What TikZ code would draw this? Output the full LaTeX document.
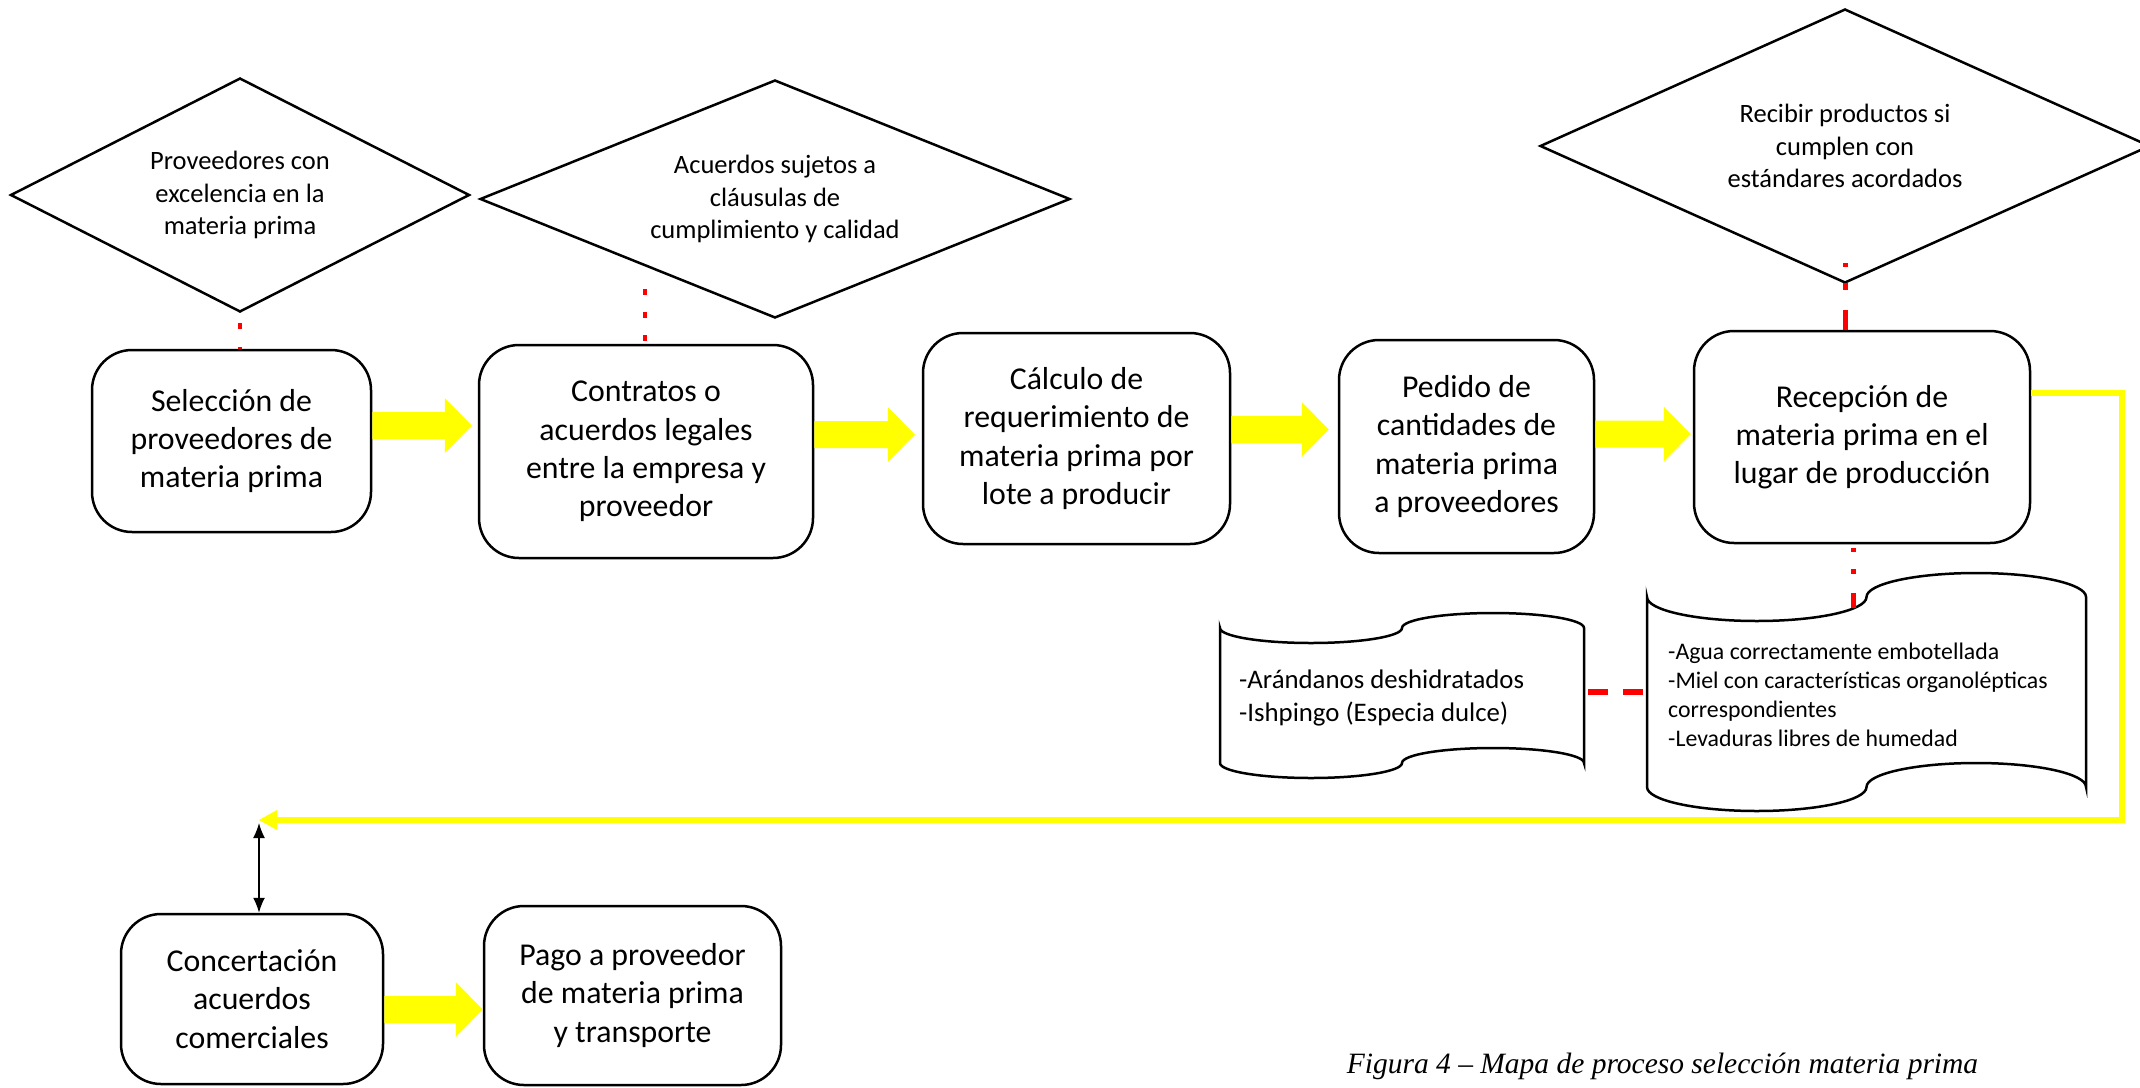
\documentclass[tikz,border=0pt]{standalone}
\usepackage{fontspec}
\setmainfont{Carlito}
\newfontfamily\capfont{Liberation Serif}
\usetikzlibrary{shapes.geometric,calc,arrows.meta}
\definecolor{yel}{RGB}{255,255,0}
\definecolor{rojo}{RGB}{255,0,0}
\tikzset{
  procbox/.style={draw=black, line width=2.5pt, rounded corners=40pt, inner sep=0pt, align=center,
    font=\fontsize{31.8}{38.3}\selectfont},
  decis/.style={draw=black, diamond, line width=2.5pt, inner sep=0pt, align=center,
    font=\fontsize{26.5}{32.5}\selectfont},
  doctext/.style={align=left, inner sep=0pt, anchor=west},
  docshape/.style={draw=black, line width=2.5pt},
  reddot/.style={draw=rojo, line width=4.5pt},
  yline/.style={draw=yel, line width=6pt},
  blockyellow/.style={fill=yel},
}
\newcommand\yarrow[4]{%
  \fill[blockyellow] ($(#1.east |- 0,#3)+(0,-13.5)$) -- ($(#2.west |- 0,#3)+(-#4-27,-13.5)$)
    -- ($(#2.west |- 0,#3)+(-#4-27,-27.5)$) -- ($(#2.west |- 0,#3)+(-#4,0)$)
    -- ($(#2.west |- 0,#3)+(-#4-27,27.5)$) -- ($(#2.west |- 0,#3)+(-#4-27,13.5)$)
    -- ($(#1.east |- 0,#3)+(0,13.5)$) -- cycle;}
\begin{document}
\begin{tikzpicture}[x=1pt,y=-1pt]
\useasboundingbox (0,0) rectangle (2140,1087);

% decisions
\node[decis, aspect=1.96, minimum width=459pt, minimum height=234pt] (d1) at (240,195) {Proveedores con\\excelencia en la\\materia prima};
\node[decis, aspect=2.48, minimum width=590pt, minimum height=238pt] (d2) at (775,199) {Acuerdos sujetos a\\cláusulas de\\cumplimiento y calidad};
\node[decis, aspect=2.23, minimum width=610pt, minimum height=274pt] (d3) at (1845,146) {Recibir productos si\\cumplen con\\estándares acordados};

% process boxes
\node[procbox, minimum width=279pt, minimum height=182pt] (b1) at (231.5,441) {Selección de\\proveedores de\\materia prima};
\node[procbox, minimum width=334pt, minimum height=213pt] (b2) at (646,451.5) {Contratos o\\acuerdos legales\\entre la empresa y\\proveedor};
\node[procbox, minimum width=307pt, minimum height=211pt] (b3) at (1076.5,438.5) {Cálculo de\\requerimiento de\\materia prima por\\lote a producir};
\node[procbox, minimum width=255pt, minimum height=213pt] (b4) at (1466.5,446.5) {Pedido de\\cantidades de\\materia prima\\a proveedores};
\node[procbox, minimum width=336pt, minimum height=212pt] (b5) at (1862,437) {Recepción de\\materia prima en el\\lugar de producción};
\node[procbox, minimum width=262pt, minimum height=170pt] (b6) at (252,999) {Concertación\\acuerdos\\comerciales};
\node[procbox, minimum width=297pt, minimum height=179pt] (b7) at (632.5,995.5) {Pago a proveedor\\de materia prima\\y transporte};

% documents (punched tape shapes)
\draw[docshape] (1220,628) .. controls (1220,636.3) and (1260.7,643) .. (1311,643)
  .. controls (1361.3,643) and (1402,636.3) .. (1402,628)
  .. controls (1402,619.7) and (1442.7,613) .. (1493,613)
  .. controls (1543.3,613) and (1584,619.7) .. (1584,628)
  -- (1584,763) .. controls (1584,754.7) and (1543.3,748) .. (1493,748)
  .. controls (1442.7,748) and (1402,754.7) .. (1402,763)
  .. controls (1402,771.3) and (1361.3,778) .. (1311,778)
  .. controls (1260.7,778) and (1220,771.3) .. (1220,763) -- cycle;
\node[doctext, font=\fontsize{26.8}{32.7}\selectfont] (t1) at (1239,698) {-Arándanos deshidratados\\-Ishpingo (Especia dulce)};
\draw[docshape] (1647,597) .. controls (1647,610.26) and (1696.14,621) .. (1756.75,621)
  .. controls (1817.36,621) and (1866.5,610.26) .. (1866.5,597)
  .. controls (1866.5,583.74) and (1915.64,573) .. (1976.25,573)
  .. controls (2036.86,573) and (2086,583.74) .. (2086,597)
  -- (2086,787) .. controls (2086,773.74) and (2036.86,763) .. (1976.25,763)
  .. controls (1915.64,763) and (1866.5,773.74) .. (1866.5,787)
  .. controls (1866.5,800.26) and (1817.36,811) .. (1756.75,811)
  .. controls (1696.14,811) and (1647,800.26) .. (1647,787) -- cycle;
\node[doctext, font=\fontsize{23.8}{29}\selectfont] (t2) at (1668,695) {-Agua correctamente embotellada\\-Miel con características organolépticas\\correspondientes\\-Levaduras libres de humedad};
\coordinate (doc1e) at (1584,692);
\coordinate (doc2w) at (1647,692);
\coordinate (doc2n) at (1853,608);

% block arrows
\yarrow{b1}{b2}{425.5}{6}
\yarrow{b2}{b3}{434.5}{7}
\yarrow{b3}{b4}{429.5}{9}
\yarrow{b4}{b5}{434}{2}
\yarrow{b6}{b7}{1009.5}{0}

% red connectors
\draw[reddot, dash pattern=on 6pt off 18pt, dash phase=14pt] (d1.south) -- (d1.south |- b1.north);
\coordinate (d2c) at (645,289);
\draw[reddot, dash pattern=on 6pt off 17pt] (d2c) -- (d2c |- b2.north);
\coordinate (d3c) at (1845,263);
\draw[reddot, line width=5pt, dash pattern=on 4pt off 16pt on 7pt off 20pt on 40pt] (d3c) -- (d3c |- b5.north);
\draw[reddot, line width=5pt, dash pattern=on 4pt off 17pt on 5pt off 19pt on 30pt off 4pt, dash phase=75pt] (b5.south -| doc2n) -- (doc2n);
\draw[reddot, line width=6pt, dash pattern=on 20pt off 15pt, dash phase=31pt] (doc1e) -- (doc2w);

% yellow return line
\coordinate (jn) at (259,820);
\draw[yline] (b5.east |- 0,393) -- (2122,393) -- (2122,820) -- ($(jn)+(17,0)$);
\fill[yel] (jn) -- ++(18,-10) -- ++(0,20) -- cycle;

% black double arrow
\draw[line width=1.5pt, {Latex[length=15pt,width=12pt]}-{Latex[length=15pt,width=12pt]}] ($(jn)+(0,3)$) -- (jn |- b6.north);

% caption
\node[font=\capfont\itshape\fontsize{29.5}{34}\selectfont, anchor=base, inner sep=0pt] (cap) at (1662.5,1073) {Figura 4 – Mapa de proceso selección materia prima};
\end{tikzpicture}
\end{document}
